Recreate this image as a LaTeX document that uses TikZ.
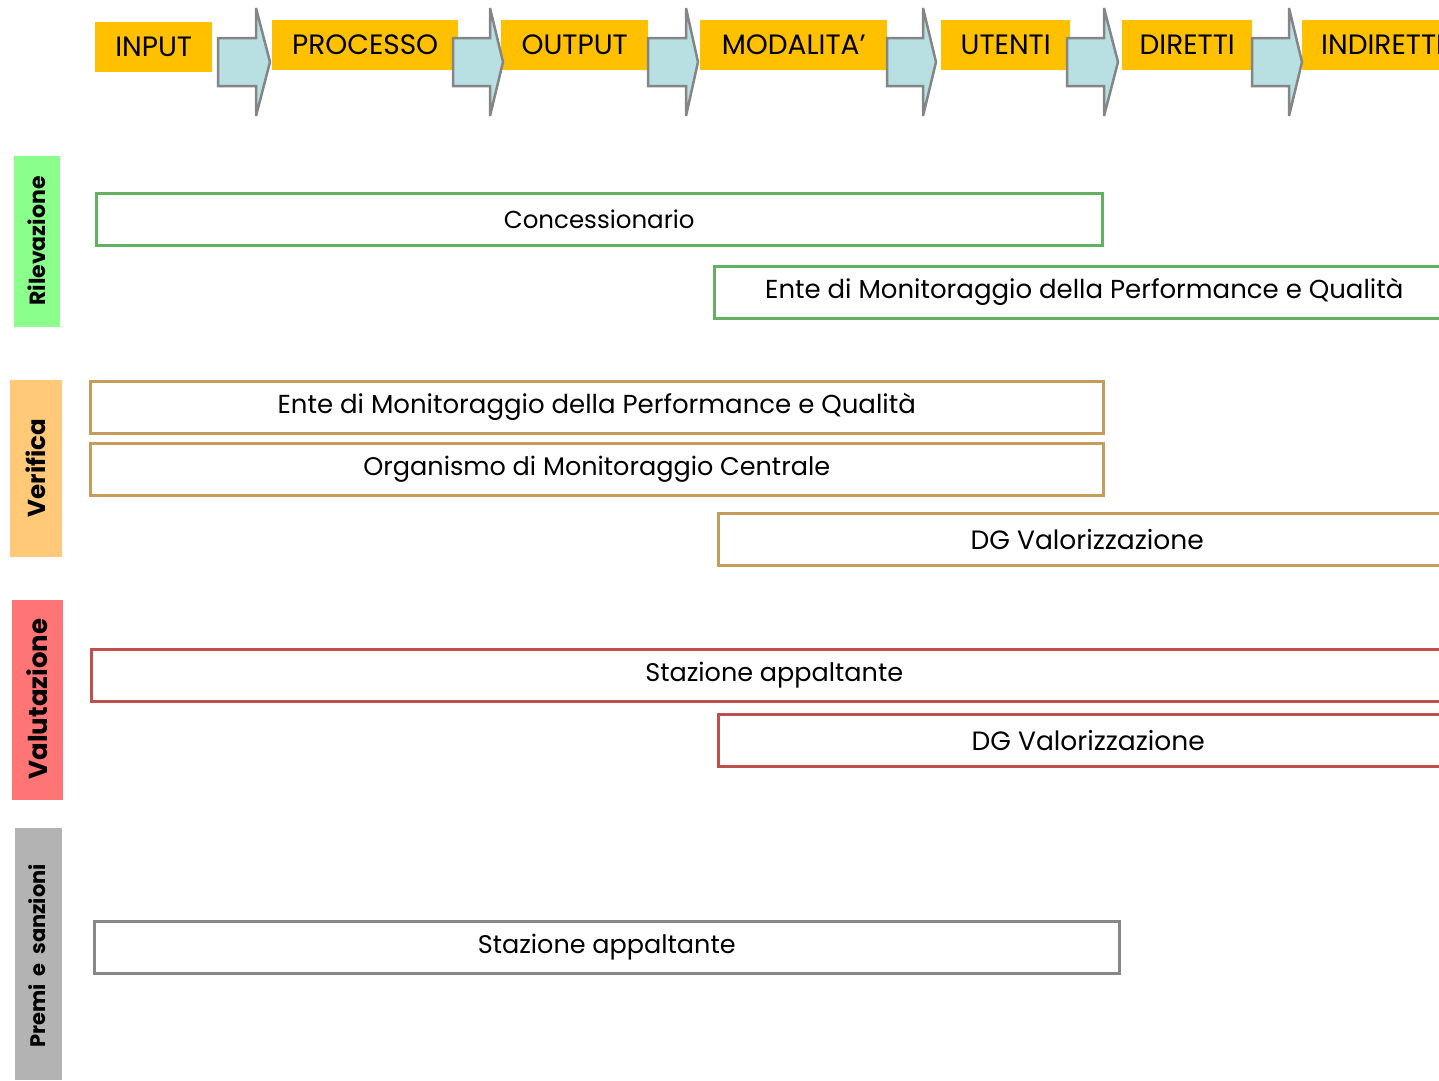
\documentclass[tikz,border=0pt]{standalone}
\usepackage{fontspec}
\setmainfont{Poppins}
\definecolor{hdrY}{HTML}{FFC000}
\definecolor{arrF}{HTML}{B8DFE1}
\definecolor{arrS}{HTML}{858585}
\definecolor{gStroke}{HTML}{62B062}
\definecolor{tStroke}{HTML}{C49C5C}
\definecolor{rStroke}{HTML}{C0504D}
\definecolor{kStroke}{HTML}{878787}
\definecolor{gFill}{HTML}{8BFF8B}
\definecolor{tFill}{HTML}{FFC978}
\definecolor{rFill}{HTML}{FF7575}
\definecolor{kFill}{HTML}{B3B3B3}
\begin{document}
\begin{tikzpicture}[x=1pt,y=-1pt,
  hdr/.style={fill=hdrY, inner sep=0pt, anchor=north west, minimum height=50pt, font=\fontsize{28}{28}\selectfont},
  arr/.style={fill=arrF, draw=arrS, line width=2.5pt, line join=miter, miter limit=3},
  sidetxt/.style={rotate=90},
  bar/.style={fill=white, line width=2.5pt, inner sep=0pt, anchor=north west, minimum height=52pt, font=\fontsize{25.5}{25.5}\selectfont},
]
\useasboundingbox (0,0) rectangle (1439,1080);
\clip (0,0) rectangle (1439,1080);

% header boxes
\node[hdr, minimum width=117pt] (input) at (95,22) {INPUT};
\node[hdr, minimum width=186pt] (proc) at (272,20) {PROCESSO};
\node[hdr, minimum width=147pt] (out) at (501,20) {OUTPUT};
\node[hdr, minimum width=187pt] (mod) at (700,20) {MODALITA’};
\node[hdr, minimum width=129pt] (ute) at (941,20) {UTENTI};
\node[hdr, minimum width=130pt] (dir) at (1122,20) {DIRETTI};
\node[hdr, minimum width=180pt, text width=180pt, align=left] (ind) at (1302,20) {\hspace*{19pt}INDIRETTI};

% block arrows
\foreach \a/\b/\c in {218/256/270, 453/490/503, 648/686/698, 887/923/936, 1067/1104/1118, 1252/1289/1302}{
  \draw[arr] (\a,38) -- (\b,38) -- (\b,8) -- (\c,62) -- (\b,116) -- (\b,86) -- (\a,86) -- cycle;
}

% side labels
\fill[gFill] (14,156) rectangle (60,327);
\node[sidetxt, font=\bfseries\fontsize{22}{22}\selectfont] (ril) at (37,241) {Rilevazione};
\fill[tFill] (10,380) rectangle (62,557);
\node[sidetxt, font=\bfseries\fontsize{24.5}{24.5}\selectfont] (ver) at (36,468) {Verifica};
\fill[rFill] (12,600) rectangle (63,800);
\node[sidetxt, font=\bfseries\fontsize{26}{26}\selectfont] (val) at (37,699) {Valutazione};
\fill[kFill] (15,828) rectangle (62,1080);
\node[sidetxt, font=\bfseries\fontsize{21}{21}\selectfont] (pre) at (37,956) {Premi\hspace{0.4em}e\hspace{0.4em}sanzioni};

% bars
\node[bar, draw=gStroke, minimum width=1006pt, font=\fontsize{24.5}{24.5}\selectfont] (conc) at (95,192) {Concessionario};
\node[bar, draw=gStroke, minimum width=740pt, font=\fontsize{26}{26}\selectfont] (ente1) at (713,265) {Ente di Monitoraggio della Performance e Qualità};
\node[bar, draw=tStroke, minimum width=1013pt, font=\fontsize{26}{26}\selectfont] (ente2) at (89,380) {Ente di Monitoraggio della Performance e Qualità};
\node[bar, draw=tStroke, minimum width=1013pt] (org) at (89,442) {Organismo di Monitoraggio Centrale};
\node[bar, draw=tStroke, minimum width=738pt, font=\fontsize{26.5}{26.5}\selectfont] (dg1) at (717,512) {DG Valorizzazione};
\node[bar, draw=rStroke, minimum width=1366pt] (staz1) at (90,648) {Stazione appaltante};
\node[bar, draw=rStroke, minimum width=740pt, font=\fontsize{26.5}{26.5}\selectfont] (dg2) at (717,713) {DG Valorizzazione};
\node[bar, draw=kStroke, minimum width=1025pt] (staz2) at (93,920) {Stazione appaltante};
\end{tikzpicture}
\end{document}
